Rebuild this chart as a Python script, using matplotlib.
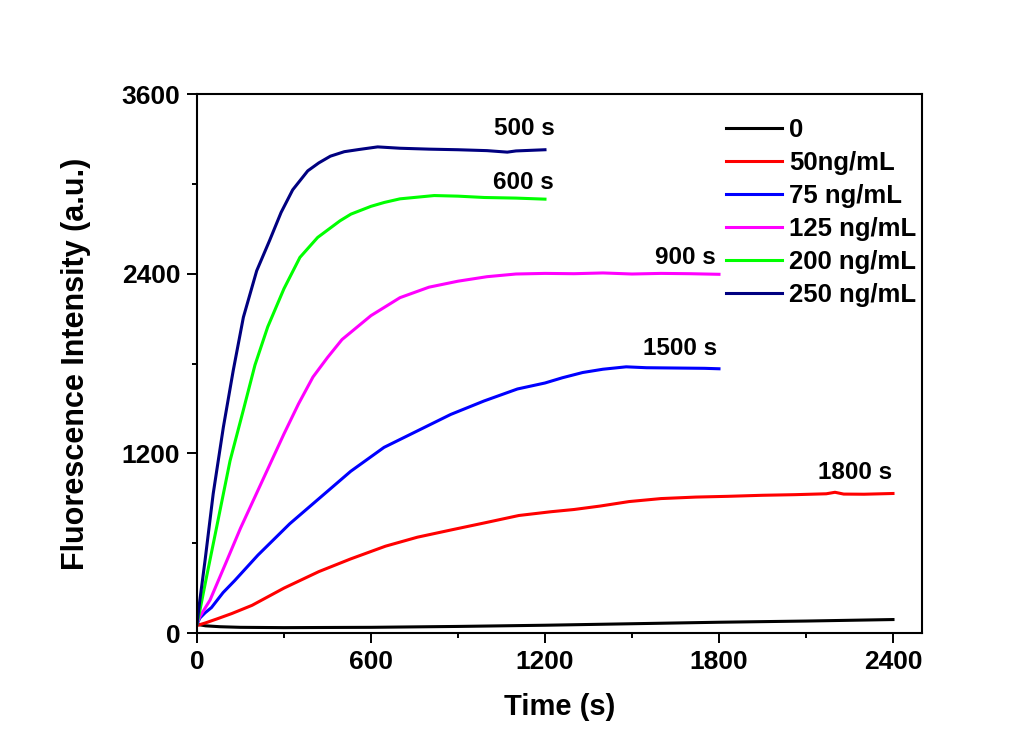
import matplotlib
matplotlib.use("Agg")
import matplotlib.pyplot as plt
from matplotlib.ticker import MultipleLocator

# values (time in s, intensity in a.u.)
t_blank = [0, 30, 80, 150, 300, 600, 900, 1200, 1500, 1800, 2100, 2400]
i_blank = [58, 48, 42, 38, 36, 38, 44, 52, 62, 72, 80, 90]

t_50 = [0, 30, 70, 120, 190, 300, 420, 530, 650, 760, 880, 990, 1110, 1220,
        1300, 1390, 1490, 1600, 1720, 1830, 1950, 2060, 2170, 2200, 2230, 2300, 2400]
i_50 = [50, 68, 95, 130, 185, 300, 410, 495, 580, 640, 690, 735, 785, 810,
        825, 848, 878, 898, 908, 913, 920, 924, 930, 940, 928, 927, 932]

t_75 = [0, 10, 28, 50, 90, 130, 210, 320, 440, 530, 645, 760, 875, 990, 1105,
        1200, 1260, 1330, 1400, 1480, 1550, 1650, 1750, 1800]
i_75 = [60, 100, 135, 170, 270, 350, 520, 730, 930, 1080, 1240, 1350, 1460, 1550, 1630,
        1670, 1705, 1740, 1762, 1778, 1772, 1770, 1768, 1765]

t_125 = [0, 10, 45, 100, 150, 200, 250, 300, 350, 400, 450, 500, 600, 700, 800,
         900, 1000, 1100, 1200, 1300, 1400, 1500, 1600, 1700, 1800]
i_125 = [60, 110, 220, 470, 700, 910, 1120, 1330, 1530, 1710, 1840, 1960, 2120, 2240, 2310,
         2350, 2380, 2398, 2402, 2400, 2405, 2398, 2402, 2400, 2396]

t_200 = [0, 10, 33, 68, 114, 160, 200, 244, 300, 355, 416, 493, 531, 600, 646,
         700, 818, 900, 991, 1100, 1200]
i_200 = [60, 150, 375, 709, 1150, 1490, 1790, 2045, 2300, 2509, 2642, 2753, 2798, 2850, 2876,
         2900, 2922, 2918, 2909, 2905, 2898]

t_250 = [0, 10, 28, 56, 91, 125, 160, 206, 250, 290, 330, 382, 420, 460, 508,
         560, 623, 700, 800, 900, 1000, 1070, 1100, 1200]
i_250 = [60, 220, 487, 931, 1375, 1753, 2109, 2420, 2620, 2809, 2960, 3087, 3140, 3185, 3215,
         3230, 3247, 3238, 3232, 3228, 3222, 3212, 3220, 3228]

series = [
    ("0", t_blank, i_blank, "black"),
    ("50ng/mL", t_50, i_50, "#ff0000"),
    ("75 ng/mL", t_75, i_75, "#0000ff"),
    ("125 ng/mL", t_125, i_125, "#ff00ff"),
    ("200 ng/mL", t_200, i_200, "#00ff00"),
    ("250 ng/mL", t_250, i_250, "#000080"),
]

end_labels = ["500 s", "600 s", "900 s", "1500 s", "1800 s"]

plt.rcParams["font.family"] = ["Liberation Sans", "DejaVu Sans"]
plt.rcParams["font.weight"] = "bold"

fig = plt.figure(figsize=(10.19, 7.33), dpi=100)
ax = fig.add_axes([0.1933, 0.1364, 0.7115, 0.7353])

for name, t, y, c in series:
    ax.plot(t, y, color=c, lw=2.2, label=name)

# time labels placed to the upper right end of each curve
label_pos = [(1235, 3367), (1229, 3009), (1790, 2509), (1793, 1900), (2397, 1070)]
for txt, (x, y) in zip(end_labels, label_pos):
    ax.text(x, y, txt, ha="right", va="center", fontsize=17.5, fontweight="bold")

ax.set_xlim(0, 2500)
ax.set_ylim(0, 3600)
ax.xaxis.set_major_locator(MultipleLocator(600))
ax.xaxis.set_minor_locator(MultipleLocator(300))
ax.yaxis.set_major_locator(MultipleLocator(1200))
ax.yaxis.set_minor_locator(MultipleLocator(600))
ax.tick_params(which="both", direction="out", top=False, right=False, width=1.4)
ax.tick_params(which="major", length=7, labelsize=19, pad=5)
ax.tick_params(which="minor", length=3.6)
for sp in ax.spines.values():
    sp.set_linewidth(1.5)

ax.set_xlabel("Time (s)", fontsize=21, fontweight="bold", labelpad=14)
ax.set_ylabel("Fluorescence Intensity (a.u.)", fontsize=22, fontweight="bold", labelpad=22)

ax.legend(loc="upper left", bbox_to_anchor=(0.729, 0.956), frameon=False,
          fontsize=18.5, handlelength=2.18, handletextpad=0.28, labelspacing=0.35,
          borderpad=0, borderaxespad=0)

fig.savefig("out.png", dpi=100)
